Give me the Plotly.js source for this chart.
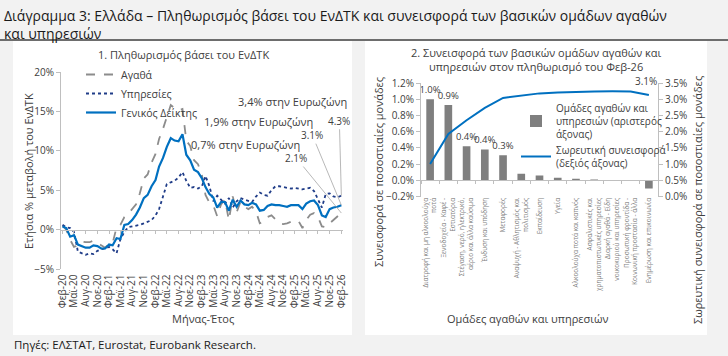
<!DOCTYPE html>
<html><head><meta charset="utf-8">
<script src="https://cdn.plot.ly/plotly-3.0.1.min.js"></script>
<style>html,body{margin:0;padding:0;background:#f2f2f2;}#chart{width:728px;height:356px;}</style>
</head><body><div id="chart"></div>
<script>
// ---------- Chart 1 data: annual % change of HICP, Feb-20 .. Feb-26 ----------
const goods = [0.5,0.0,-1.3,-2.2,-2.0,-1.5,-1.6,-1.6,-1.4,-1.6,-2.0,
  -2.3,-1.8,-1.7,0.3,0.6,1.6,2.0,2.6,3.2,4.6,6.5,7.0,
  8.5,9.6,11.5,12.8,14.2,15.8,15.4,15.1,15.3,11.3,10.6,8.8,
  8.3,6.9,4.4,3.4,3.1,1.7,3.2,3.8,1.2,4.2,2.2,3.5,
  2.9,2.6,2.9,2.3,0.8,1.0,1.6,1.8,1.3,0.8,0.7,0.8,
  1.0,1.0,1.1,0.2,1.2,1.9,2.1,1.6,0.4,0.3,0.8,1.2,
  1.6,2.1];
const services = [0.6,0.3,0.2,-0.3,-2.8,-3.0,-3.2,-3.0,-3.1,-2.7,-2.5,
  -2.4,-2.2,-2.5,-3.0,-1.2,-0.3,0.3,0.4,0.5,0.6,0.8,1.0,
  1.2,1.8,2.6,4.2,5.8,6.0,6.2,6.6,7.3,6.2,5.3,5.4,
  5.2,5.5,6.8,5.5,3.6,4.3,3.8,3.3,4.0,2.8,3.6,4.0,
  3.8,3.6,3.5,4.2,4.7,4.4,4.3,5.0,5.5,5.5,5.4,5.3,
  5.2,5.3,5.2,5.1,5.2,5.3,4.9,3.8,2.8,4.5,4.6,4.2,
  4.1,4.3];
const general = [0.4,0.2,-0.9,-0.7,-1.9,-2.1,-2.3,-2.3,-2.0,-2.1,-2.4,
  -2.4,-1.9,-2.0,-1.1,-1.2,0.6,0.7,1.2,1.9,2.8,4.0,4.4,
  5.5,6.3,8.0,9.1,10.5,11.6,11.3,11.2,12.1,9.5,8.8,7.6,
  7.3,6.5,5.4,4.5,4.1,2.8,3.5,3.5,2.4,3.8,2.9,3.7,
  3.2,3.1,3.4,3.2,2.4,2.5,3.0,3.2,3.1,3.1,3.0,2.9,
  3.1,3.1,3.1,2.6,3.3,3.6,3.7,3.1,1.8,1.6,2.6,2.8,
  2.9,3.1];
const seriesNames = ['Αγαθά','Υπηρεσίες','Γενικός Δείκτης'];
const monthNames = ['Ιαν','Φεβ','Μαρ','Απρ','Μαϊ','Ιουν','Ιουλ','Αυγ','Σεπ','Οκτ','Νοε','Δεκ'];
const startYear = 2020, startMonth = 1; // Feb-20
const eaNotes = ['3,4% στην Ευρωζώνη','1,9% στην Ευρωζώνη','0,7% στην Ευρωζώνη'];

// ---------- Chart 2 data: contributions (pp), Feb-26 ----------
const groups = [
  'Διατροφή και μη αλκοολούχα<br>ποτά',
  'Ξενοδοχεία - Καφέ -<br>Εστιατόρια',
  'Στέγαση, νερό, ηλεκτρικό,<br>αέριο και άλλα καύσιμα',
  'Ένδυση και υπόδηση',
  'Μεταφορές',
  'Αναψυχή - Αθλητισμός και<br>πολιτισμός',
  'Εκπαίδευση',
  'Υγεία',
  'Αλκοολούχα ποτά και καπνός',
  'Ασφαλιστικές και<br>χρηματοπιστωτικές υπηρεσίες',
  'Διαρκή αγαθά - Είδη<br>νοικοκυριού και υπηρεσίες',
  'Προσωπική φροντίδα -<br>Κοινωνική προστασία - άλλα',
  'Ενημέρωση και επικοινωνία'];
const contrib = [1.00,0.93,0.42,0.38,0.31,0.08,0.06,0.03,0.02,0.01,0.005,-0.005,-0.10];
const contribLabels = ['1.0%','0.9%','0.4%','0.4%','0.3%','','','','','','','',''];
const cumulative = [1.00,1.93,2.35,2.73,3.04,3.12,3.18,3.21,3.23,3.24,3.245,3.24,3.13];
const cumLabel = '3.1%';

// ---------- derived categories ----------
const dates = [], monthLabels = [];
for (let i = 0; i < general.length; i++) {
  const k = startMonth + i, y = startYear + Math.floor(k / 12), m = k % 12;
  dates.push(`${y}-${String(m + 1).padStart(2, '0')}-01`);
  monthLabels.push(`${monthNames[m]}-${String(y).slice(2)}`);
}
const tickDates = dates.filter((d, i) => i % 3 === 0);
const tickLabels = monthLabels.filter((d, i) => i % 3 === 0);

const W = 728, H = 356;
const fx = p => p / W, fy = p => 1 - p / H;
const FONT = 'Open Sans, DejaVu Sans, sans-serif';
const TXT = '#404040', AX = '#bfbfbf';
const BLUE = '#0070c0', NAVY = '#1f3c88', GREY = '#8c8c8c', BARGREY = '#7f7f7f';

const last = general.length - 1;
const traces = [
  {x: dates, y: goods, name: seriesNames[0], type: 'scatter', mode: 'lines', xaxis: 'x', yaxis: 'y',
   line: {color: GREY, width: 1.8, dash: 'dash'}, legend: 'legend'},
  {x: dates, y: services, name: seriesNames[1], type: 'scatter', mode: 'lines', xaxis: 'x', yaxis: 'y',
   line: {color: NAVY, width: 1.8, dash: 'dot'}, legend: 'legend'},
  {x: dates, y: general, name: seriesNames[2], type: 'scatter', mode: 'lines', xaxis: 'x', yaxis: 'y',
   line: {color: BLUE, width: 2.2}, legend: 'legend'},
  {x: groups, y: contrib, name: 'Ομάδες αγαθών και<br>υπηρεσιών (αριστερός<br>άξονας)', type: 'bar',
   xaxis: 'x2', yaxis: 'y2', marker: {color: BARGREY}, width: 0.42,
   text: contribLabels, textposition: 'outside', cliponaxis: false, constraintext: 'none',
   textfont: {size: 9.5, color: TXT, family: FONT}, legend: 'legend2'},
  {x: groups, y: cumulative, name: 'Σωρευτική συνεισφορά<br>(δεξιός άξονας)', type: 'scatter', mode: 'lines',
   xaxis: 'x2', yaxis: 'y3', line: {color: BLUE, width: 2}, legend: 'legend2'}
];

function txt(text, x, y, size, extra) {
  return Object.assign({text: text, xref: 'paper', yref: 'paper', x: fx(x), y: fy(y), xanchor: 'center', yanchor: 'middle',
    showarrow: false, font: {size: size, color: TXT, family: FONT}}, extra || {});
}

const annotations = [
  txt('Διάγραμμα 3: Ελλάδα – Πληθωρισμός βάσει του ΕνΔΤΚ και συνεισφορά των βασικών ομάδων αγαθών<br>και υπηρεσιών',
      2, 4, 14, {xanchor: 'left', yanchor: 'top', align: 'left', font: {size: 14, color: '#1a1a1a', family: FONT}}),
  txt('1. Πληθωρισμός βάσει του ΕνΔΤΚ', 183, 54, 11),
  txt('2. Συνεισφορά των βασικών ομάδων αγαθών και<br>υπηρεσιών στον πληθωρισμό του Φεβ-26', 536, 60, 11),
  txt('Ετήσια % μεταβολή του ΕνΔΤΚ', 28, 171, 11, {textangle: -90}),
  txt('Μήνας-Έτος', 203, 318, 11),
  txt('Συνεισφορά σε ποσοστιαίες μονάδες', 378, 172, 11, {textangle: -90}),
  txt('Σωρευτική συνεισφορά σε ποσοστιαίες μονάδες', 697, 200, 11, {textangle: -90}),
  txt('Ομάδες αγαθών και υπηρεσιών', 528, 318, 11),
  txt('Πηγές: ΕΛΣΤΑΤ, Eurostat, Eurobank Research.', 12, 344, 11.5, {xanchor: 'left', font: {size: 11.5, color: '#1a1a1a', family: FONT}}),
  // euro-area notes
  txt(eaNotes[0], 292, 101, 11),
  txt(eaNotes[1], 258, 121, 11),
  txt(eaNotes[2], 245, 145, 11),
  // end-point labels
  {text: services[last].toFixed(1) + '%', xref: 'x', yref: 'y', x: dates[last], y: services[last], ax: -2, ay: -75,
   showarrow: true, arrowhead: 0, arrowwidth: 0.8, arrowcolor: '#a6a6a6', font: {size: 10, color: TXT, family: FONT}},
  {text: general[last].toFixed(1) + '%', xref: 'x', yref: 'y', x: dates[last], y: general[last], ax: -29, ay: -70,
   showarrow: true, arrowhead: 0, arrowwidth: 0.8, arrowcolor: '#a6a6a6', font: {size: 10, color: TXT, family: FONT}},
  {text: goods[last].toFixed(1) + '%', xref: 'x', yref: 'y', x: dates[last], y: goods[last], ax: -45, ay: -55,
   showarrow: true, arrowhead: 0, arrowwidth: 0.8, arrowcolor: '#a6a6a6', font: {size: 10, color: TXT, family: FONT}},
  // cumulative label
  {text: cumLabel, xref: 'x2', yref: 'y3', x: groups[groups.length - 1], y: cumulative[cumulative.length - 1],
   yshift: 14, xshift: -3, showarrow: false, font: {size: 10, color: TXT, family: FONT}}
];

const zeroLeftPx = 72 + (20 - 0) / 25 * (269 - 72);
const zeroRightPx = 83 + (1.2 - 0) / 1.4 * (196.5 - 83);

const layout = {
  width: W, height: H,
  margin: {l: 0, r: 0, t: 0, b: 0},
  paper_bgcolor: '#f2f2f2', plot_bgcolor: 'rgba(0,0,0,0)',
  font: {family: FONT, color: TXT},
  showlegend: true,
  shapes: [
    {type: 'line', xref: 'paper', yref: 'paper', x0: 0, x1: 1, y0: fy(40), y1: fy(40), line: {color: '#404040', width: 1.5}, layer: 'below'},
    {type: 'rect', xref: 'paper', yref: 'paper', x0: fx(13), x1: fx(352), y0: fy(335), y1: fy(41), fillcolor: 'white', line: {width: 0}, layer: 'below'},
    {type: 'rect', xref: 'paper', yref: 'paper', x0: fx(365), x1: fx(707), y0: fy(335), y1: fy(41), fillcolor: 'white', line: {width: 0}, layer: 'below'}
  ],
  // time axis sits on the 0% line, labels pushed down below the plot
  xaxis: {domain: [fx(61), fx(343)], anchor: 'free', position: fy(zeroLeftPx), type: 'date', range: ['2020-01-20', '2026-02-14'],
    tickmode: 'array', tickvals: tickDates, ticktext: tickLabels, tickangle: -90, ticklabelstandoff: 37,
    tickfont: {size: 10, color: TXT}, showgrid: false, showline: true, linecolor: AX, linewidth: 1, zeroline: false,
    ticks: 'outside', ticklen: 3, tickcolor: AX},
  yaxis: {domain: [fy(269), fy(72)], anchor: 'x', position: fx(61), range: [-5, 20], tickmode: 'linear', tick0: -5, dtick: 5, ticksuffix: '%',
    tickfont: {size: 10, color: TXT}, showgrid: false, showline: true, linecolor: AX, linewidth: 1,
    ticks: 'outside', ticklen: 4, tickcolor: AX, zeroline: false},
  xaxis2: {domain: [fx(421), fx(658)], anchor: 'free', position: fy(zeroRightPx), type: 'category', range: [-0.5, 12.5],
    tickangle: -90, ticklabelstandoff: 14, tickfont: {size: 6.5, color: '#7f7f7f'}, showgrid: false,
    showline: true, linecolor: AX, linewidth: 1, zeroline: false, ticks: 'outside', ticklen: 3, tickcolor: AX, tickson: 'boundaries'},
  yaxis2: {domain: [fy(196.5), fy(83)], anchor: 'x2', range: [-0.2, 1.2], dtick: 0.2, tickformat: '.1f', ticksuffix: '%',
    tickfont: {size: 10, color: TXT}, showgrid: false, showline: true, linecolor: AX, ticks: 'outside', ticklen: 4, tickcolor: AX,
    zeroline: false},
  yaxis3: {overlaying: 'y2', anchor: 'x2', side: 'right', range: [0, 3.5], dtick: 0.5, tickformat: '.1f', ticksuffix: '%',
    tickfont: {size: 10, color: TXT}, showgrid: false, showline: true, linecolor: AX, ticks: 'outside', ticklen: 4, tickcolor: AX,
    zeroline: false},
  legend: {x: fx(81), y: fy(60), xanchor: 'left', yanchor: 'top', bgcolor: 'rgba(0,0,0,0)',
    font: {size: 10.5, color: TXT}, itemwidth: 30, tracegroupgap: 0},
  legend2: {x: fx(516), y: fy(95), xanchor: 'left', yanchor: 'top', bgcolor: 'rgba(0,0,0,0)',
    font: {size: 10, color: TXT}, itemwidth: 30, tracegroupgap: 0},
  annotations: annotations
};

Plotly.newPlot('chart', traces, layout, {staticPlot: true, displayModeBar: false});
</script></body></html>
